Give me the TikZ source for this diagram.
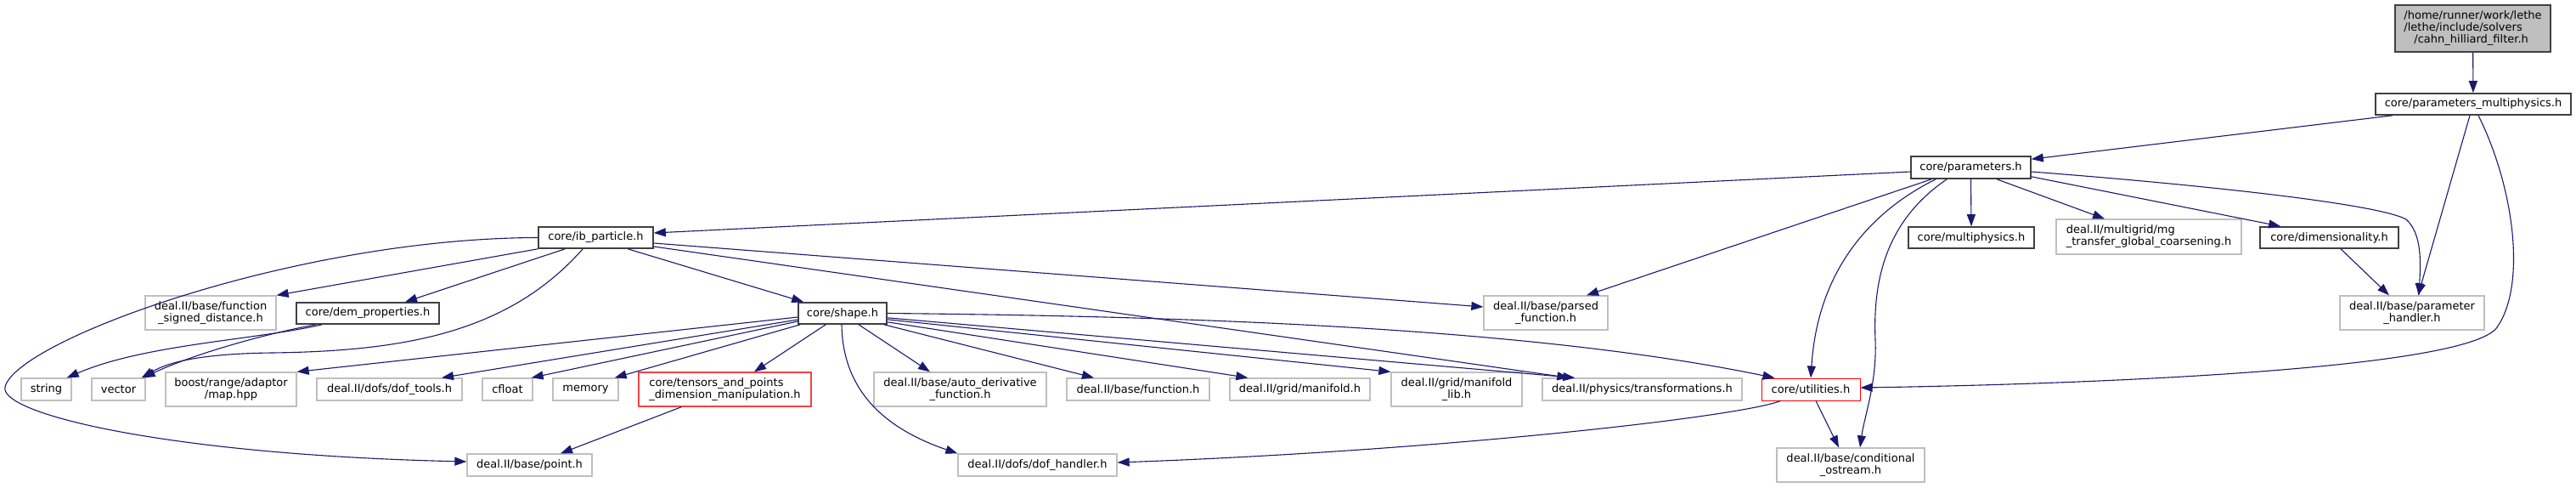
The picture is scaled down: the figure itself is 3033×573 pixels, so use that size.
\documentclass[tikz,border=0pt]{standalone}
\usepackage{fontspec}
\setmainfont{DejaVu Sans}
\usetikzlibrary{arrows.meta}
\definecolor{edgeblue}{HTML}{191970}
\definecolor{docborder}{HTML}{404040}
\definecolor{extborder}{HTML}{BFBFBF}
\definecolor{rootfill}{HTML}{BFBFBF}
\definecolor{trunca}{HTML}{F04444}
\definecolor{truncb}{HTML}{FF0000}
\begin{document}
\begin{tikzpicture}[x=1pt,y=-1pt,font=\fontsize{13}{14}\selectfont,
  box/.style={draw, inner sep=0pt, line width=1.3pt, align=center},
  docbox/.style={box, draw=docborder, line width=1.6pt, fill=white},
  extbox/.style={box, draw=extborder, fill=white},
  redbox/.style={box, draw=truncb, line width=1pt, fill=white},
  edge/.style={draw=edgeblue, line width=1.1pt, -{Triangle[length=14pt,width=10pt]}}]
\fill[white] (0,0) rectangle (3033,573);
\path[use as bounding box] (0,0) rectangle (3033,573);
% nodes
\node[docbox, fill=rootfill, align=left, minimum width=183pt, minimum height=55pt] (root) at (2911.5,33.5) {/home/runner/work/lethe\\/lethe/include/solvers\\\hspace*{12pt}/cahn\_hilliard\_filter.h};
\node[docbox, minimum width=230pt, minimum height=25pt] (pm) at (2912,122.5) {core/parameters\_multiphysics.h};
\node[docbox, minimum width=141pt, minimum height=26pt] (par) at (2320.5,197) {core/parameters.h};
\node[docbox, minimum width=135pt, minimum height=25pt] (ib) at (701.5,279.5) {core/ib\_particle.h};
\node[docbox, minimum width=148pt, minimum height=25pt] (mph) at (2321,279.5) {core/multiphysics.h};
\node[extbox, align=left, minimum width=218pt, minimum height=41pt] (mg) at (2530,278.5) {deal.II/multigrid/mg\\\_transfer\_global\_coarsening.h};
\node[docbox, minimum width=163pt, minimum height=25pt] (dim) at (2742.5,279.5) {core/dimensionality.h};
\node[extbox, minimum width=170pt, minimum height=40pt] (ph) at (2840,368) {deal.II/base/parameter\\\_handler.h};
\node[extbox, minimum width=154pt, minimum height=40pt] (fsd) at (248,368) {deal.II/base/function\\\_signed\_distance.h};
\node[docbox, minimum width=168pt, minimum height=25pt] (dem) at (433,368.5) {core/dem\_properties.h};
\node[extbox, minimum width=146pt, minimum height=40pt] (parsed) at (1820,368) {deal.II/base/parsed\\\_function.h};
\node[docbox, minimum width=104pt, minimum height=25pt] (shape) at (992,368.5) {core/shape.h};
\node[extbox, minimum width=59pt, minimum height=26pt] (string) at (54.5,458) {string};
\node[extbox, minimum width=63pt, minimum height=26pt] (vector) at (139.5,458) {vector};
\node[extbox, minimum width=154pt, minimum height=40pt] (boost) at (272,458) {boost/range/adaptor\\/map.hpp};
\node[extbox, minimum width=171pt, minimum height=26pt] (doft) at (458.5,458) {deal.II/dofs/dof\_tools.h};
\node[extbox, minimum width=59pt, minimum height=26pt] (cfloat) at (597.5,458) {cfloat};
\node[extbox, minimum width=77pt, minimum height=26pt] (memory) at (689.5,458) {memory};
\node[box, draw=trunca, fill=white, align=left, minimum width=203pt, minimum height=40pt] (tensors) at (853.5,458) {core/tensors\_and\_points\\\_dimension\_manipulation.h};
\node[extbox, minimum width=203pt, minimum height=40pt] (autod) at (1130.5,458) {deal.II/base/auto\_derivative\\\_function.h};
\node[extbox, minimum width=168pt, minimum height=26pt] (func) at (1340,458) {deal.II/base/function.h};
\node[extbox, minimum width=165pt, minimum height=26pt] (manif) at (1530.5,458) {deal.II/grid/manifold.h};
\node[extbox, minimum width=154pt, minimum height=40pt] (maniflib) at (1715,458) {deal.II/grid/manifold\\\_lib.h};
\node[extbox, minimum width=235pt, minimum height=26pt] (transf) at (1933.5,458) {deal.II/physics/transformations.h};
\node[redbox, minimum width=116pt, minimum height=26pt] (util) at (2132,458) {core/utilities.h};
\node[extbox, minimum width=147pt, minimum height=26pt] (point) at (623.5,547) {deal.II/base/point.h};
\node[extbox, minimum width=187pt, minimum height=26pt] (dofh) at (1221.5,547) {deal.II/dofs/dof\_handler.h};
\node[extbox, minimum width=174pt, minimum height=40pt] (cond) at (2179,547) {deal.II/base/conditional\\\_ostream.h};
% edges
\draw[edge] (root) -- (pm);
\draw[edge] ([xshift=21pt]pm.south west) -- ([yshift=-4pt]par.north east);
\draw[edge] ([xshift=-4pt]pm.south) -- ([xshift=7pt]ph.north);
\draw[edge] ([xshift=6pt]pm.south) .. controls (2960,220) and (2975,335) .. (2940,385) .. controls (2905,435) and (2450,452) .. ([yshift=2pt]util.east);
\draw[edge] ([yshift=-5pt]par.west) -- ([yshift=5.5pt]ib.east);
\draw[edge] ([xshift=25pt]par.south west) -- ([xshift=48pt]parsed.north);
\draw[edge] ([xshift=30pt]par.south west) .. controls (2200,250) and (2140,320) .. (util.north);
\draw[edge] ([xshift=43pt]par.south west) .. controls (2220,260) and (2205,330) .. (2208,400) .. controls (2210,450) and (2195,490) .. ([xshift=11pt]cond.north);
\draw[edge] (par.south) -- (mph.north);
\draw[edge] ([xshift=30.5pt]par.south) -- ([xshift=-52pt]mg.north);
\draw[edge] ([yshift=3pt]par.south east) -- ([xshift=25pt]dim.north west);
\draw[edge] ([yshift=-5pt]par.east) .. controls (2600,218) and (2800,240) .. (2833,258) .. controls (2852,275) and (2850,310) .. ([xshift=8pt]ph.north);
\draw[edge] ([xshift=13.5pt]dim.south) -- ([xshift=-27pt]ph.north);
\draw[edge] ([xshift=6pt]util.south) -- ([xshift=-14pt]cond.north);
\draw[edge] ([xshift=23pt]util.south west) .. controls (2050,490) and (1700,530) .. ([yshift=3pt]dofh.east);
\draw[edge] (ib.west) .. controls (350,280) and (20,400) .. (6,455) .. controls (-2,487) and (200,535) .. ([yshift=4pt]point.west);
\draw[edge] (ib.south west) -- (fsd.north east);
\draw[edge] ([xshift=32pt]ib.south west) -- ([xshift=44pt]dem.north);
\draw[edge] ([xshift=53pt]ib.south west) .. controls (600,390) and (480,413) .. (320,415) .. controls (240,416) and (200,425) .. ([xshift=-5pt]vector.north east);
\draw[edge] ([xshift=106pt]ib.south west) -- ([xshift=7pt]shape.north west);
\draw[edge] ([yshift=-6.5pt]ib.east) -- ([yshift=7pt]parsed.west);
\draw[edge] ([yshift=-10.5pt]ib.east) -- ([xshift=32pt]transf.north west);
\draw[edge] ([xshift=31pt]dem.south west) .. controls (300,400) and (170,405) .. ([xshift=-6pt]string.north east);
\draw[edge] ([xshift=24pt]dem.south west) .. controls (300,395) and (220,420) .. ([xshift=-3pt]vector.north east);
\draw[edge] ([yshift=-4.5pt]shape.west) -- (boost.north east);
\draw[edge] ([yshift=-7.5pt]shape.west) -- ([xshift=61.5pt]doft.north);
\draw[edge] ([yshift=-9.5pt]shape.west) -- ([xshift=-2pt]cfloat.north east);
\draw[edge] ([xshift=3pt]shape.south west) -- ([xshift=-5pt]memory.north east);
\draw[edge] ([xshift=33pt]shape.south west) -- ([xshift=34.5pt]tensors.north);
\draw[edge] ([xshift=19pt]shape.south) -- ([xshift=-35.5pt]autod.north);
\draw[edge] ([xshift=-4pt]shape.south east) -- ([xshift=-52pt]func.north);
\draw[edge] ([yshift=3pt]shape.south east) -- ([xshift=22pt]manif.north west);
\draw[edge] ([yshift=6pt]shape.south east) -- (maniflib.north west);
\draw[edge] ([yshift=8pt]shape.south east) -- ([xshift=39pt]transf.north west);
\draw[edge] (shape.east) .. controls (1400,372) and (1800,385) .. ([xshift=16pt]util.north west);
\draw[edge] ([xshift=-1pt]shape.south) .. controls (992,450) and (1030,500) .. (dofh.north west);
\draw[edge] ([xshift=51pt]tensors.south west) -- ([xshift=36.5pt]point.north);
\end{tikzpicture}
\end{document}
